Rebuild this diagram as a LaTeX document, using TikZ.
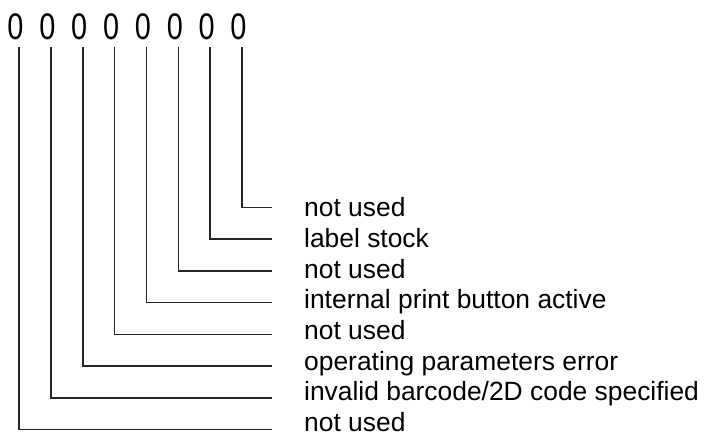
\documentclass[tikz,border=0pt]{standalone}
\usepackage{fontspec}
\setmainfont{Liberation Sans}
\begin{document}
\begin{tikzpicture}[x=1pt,y=-1pt,
  bitdigit/.style={inner sep=0pt, anchor=base, font=\fontsize{37}{37}\selectfont},
  bitlabel/.style={inner sep=0pt, anchor=base west, font=\fontsize{26.4}{30}\selectfont},
  leader/.style={line width=1.6pt, color=black!85}]
  \useasboundingbox (0,0) rectangle (706,437);
  \foreach \txt [count=\i from 0] in {not used, invalid barcode/2D code specified,
      operating parameters error, not used, internal print button active,
      not used, label stock, not used}{
    \pgfmathsetmacro{\bx}{19+31.86*\i}
    \pgfmathsetmacro{\by}{429.5-31.71*\i}
    \pgfmathsetmacro{\ty}{431.5-30.7*\i}
    % the bit digit at the top of each column
    \node[bitdigit] (d\i) at (\bx-3.5,39) {\scalebox{0.78}[1]{0}};
    \coordinate (t\i) at (\bx,47);
    \coordinate (e\i) at (272,\by);
    \node[bitlabel] (l\i) at (304,\ty) {\txt};
    \draw[leader] (t\i) |- (e\i);
  }
\end{tikzpicture}
\end{document}
